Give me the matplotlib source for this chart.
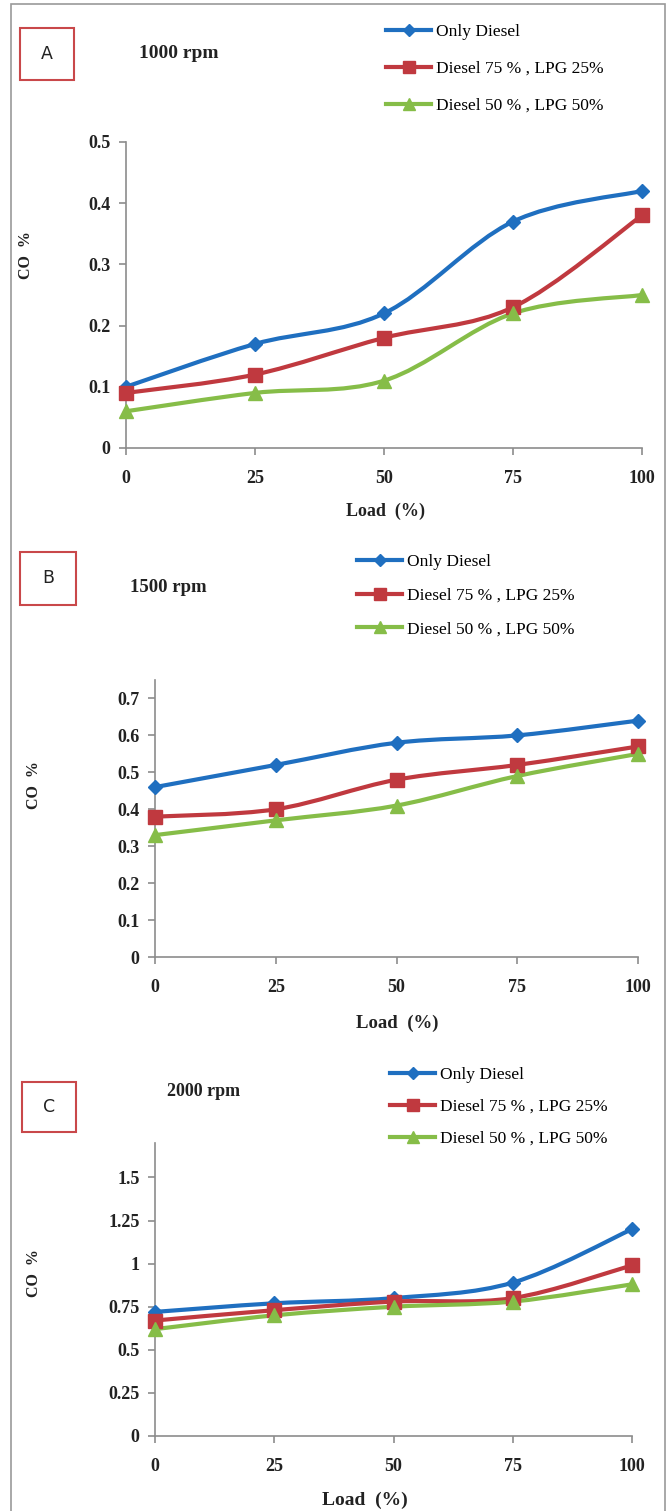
import numpy as np
import matplotlib
matplotlib.use("Agg")
import matplotlib.pyplot as plt
from matplotlib.path import Path
from matplotlib.patches import PathPatch, Rectangle
from matplotlib.lines import Line2D

# data
load = [0, 25, 50, 75, 100]
series_names = ["Only Diesel", "Diesel 75 % , LPG 25%", "Diesel 50 % , LPG 50%"]

co_1000_diesel = [0.10, 0.17, 0.22, 0.37, 0.42]
co_1000_d75 = [0.09, 0.12, 0.18, 0.23, 0.38]
co_1000_d50 = [0.06, 0.09, 0.11, 0.22, 0.25]

co_1500_diesel = [0.46, 0.52, 0.58, 0.60, 0.64]
co_1500_d75 = [0.38, 0.40, 0.48, 0.52, 0.57]
co_1500_d50 = [0.33, 0.37, 0.41, 0.49, 0.55]

co_2000_diesel = [0.72, 0.77, 0.80, 0.89, 1.20]
co_2000_d75 = [0.67, 0.73, 0.78, 0.80, 0.99]
co_2000_d50 = [0.62, 0.70, 0.75, 0.78, 0.88]

yticks_1000 = [0, 0.1, 0.2, 0.3, 0.4, 0.5]
ytick_labels_1000 = ["0", "0.1", "0.2", "0.3", "0.4", "0.5"]
yticks_1500 = [0, 0.1, 0.2, 0.3, 0.4, 0.5, 0.6, 0.7]
ytick_labels_1500 = ["0", "0.1", "0.2", "0.3", "0.4", "0.5", "0.6", "0.7"]
yticks_2000 = [0, 0.25, 0.5, 0.75, 1, 1.25, 1.5]
ytick_labels_2000 = ["0", "0.25", "0.5", "0.75", "1", "1.25", "1.5"]

colors = ["#1f6fc0", "#c0393f", "#86bd48"]
markers = ["D", "s", "^"]
msizes = [7, 10, 10]

W, H = 671, 1511
SERIF = ["Liberation Serif", "DejaVu Serif"]


def fx(x):
    return x / W


def fy(y):
    return 1 - y / H


def smooth_path(xs, ys):
    # excel style smoothed line: cubic bezier through each point
    p = np.column_stack([xs, ys]).astype(float)
    n = len(p)
    verts = [p[0]]
    codes = [Path.MOVETO]
    for i in range(n - 1):
        prev = p[i - 1] if i > 0 else p[i]
        nxt = p[i + 2] if i + 2 < n else p[i + 1]
        c1 = p[i] + (p[i + 1] - prev) / 6
        c2 = p[i + 1] - (nxt - p[i]) / 6
        verts += [c1, c2, p[i + 1]]
        codes += [Path.CURVE4] * 3
    return Path(verts, codes)


def panel(box, ylim, yticks, ylabels, data, letter, letter_box, rpm, rpm_xy,
          rpm_size, leg_xy, leg_space, ylab_xy, xlab_xy, xlab_size=12.5):
    left, right, bottom, top = box
    ax = fig.add_axes([fx(left), fy(bottom), fx(right - left), (bottom - top) / H])
    for vals, c, m, ms in zip(data, colors, markers, msizes):
        # smoothed line drawn in data coordinates
        ax.add_patch(PathPatch(smooth_path(load, vals), facecolor="none",
                               edgecolor=c, lw=3, clip_on=False, zorder=3))
        ax.plot(load, vals, ls="none", marker=m, ms=ms, color=c,
                clip_on=False, zorder=4)
    ax.set_xlim(0, 100)
    ax.set_ylim(*ylim)
    ax.set_xticks(load)
    ax.set_xticklabels([str(v) for v in load])
    ax.set_yticks(yticks)
    ax.set_yticklabels(ylabels)
    for s in ["top", "right"]:
        ax.spines[s].set_visible(False)
    for s in ["left", "bottom"]:
        ax.spines[s].set_color("#8c8c8c")
        ax.spines[s].set_linewidth(1.2)
    ax.tick_params(colors="#8c8c8c", length=5, width=1.2, labelcolor="#222222",
                   labelsize=13)
    ax.tick_params(axis="x", pad=11)
    ax.tick_params(axis="y", pad=6)
    for t in ax.get_xticklabels() + ax.get_yticklabels():
        t.set_family(SERIF)
        t.set_fontweight("bold")

    # legend
    handles = [Line2D([], [], color=c, marker=m, lw=3, ms=ms * 0.85)
               for c, m, ms in zip(colors, markers, msizes)]
    fig.legend(handles, series_names, loc="upper left",
               bbox_to_anchor=(fx(leg_xy[0]), fy(leg_xy[1])),
               frameon=False, handlelength=2.6, handletextpad=0.3,
               labelspacing=leg_space, prop={"family": SERIF, "size": 12.5},
               borderaxespad=0, borderpad=0)

    # letter box
    bx0, by0, bx1, by1 = letter_box
    fig.patches.append(Rectangle((fx(bx0), fy(by1)), fx(bx1 - bx0), (by1 - by0) / H,
                                 transform=fig.transFigure, fill=False,
                                 edgecolor="#c9484a", lw=1.5))
    fig.text(fx((bx0 + bx1) / 2), fy((by0 + by1) / 2), letter, ha="center",
             va="center", fontsize=12.5, family="DejaVu Sans", color="#222222")
    fig.text(fx(rpm_xy[0]), fy(rpm_xy[1]), rpm, ha="left", va="center",
             fontsize=rpm_size, fontweight="bold", family=SERIF, color="#222222")
    fig.text(fx(ylab_xy[0]), fy(ylab_xy[1]), "CO  %", rotation=90, ha="center",
             va="center", fontsize=11.5, fontweight="bold", family=SERIF,
             color="#222222")
    fig.text(fx(xlab_xy[0]), fy(xlab_xy[1]), "Load  (%)", ha="center",
             va="center", fontsize=xlab_size, fontweight="bold", family=SERIF,
             color="#222222")
    return ax


fig = plt.figure(figsize=(W / 100, H / 100), dpi=100)

# outer frame
fig.patches.append(Rectangle((fx(11), fy(1514)), fx(654), 1510 / H,
                             transform=fig.transFigure, fill=False,
                             edgecolor="#9a9a9a", lw=1.2))

panel((126, 642, 448, 142), (0, 0.5), yticks_1000, ytick_labels_1000,
      [co_1000_diesel, co_1000_d75, co_1000_d50], "A", (20, 28, 74, 80),
      "1000 rpm", (139, 53), 14, (386, 24), 1.2, (26, 255), (385, 511), 13)

panel((155, 638, 957, 680), (0, 0.75), yticks_1500, ytick_labels_1500,
      [co_1500_diesel, co_1500_d75, co_1500_d50], "B", (20, 552, 76, 605),
      "1500 rpm", (130, 588), 13.5, (357, 554), 1.0, (34, 785), (397, 1023), 13.5)

panel((155, 632, 1436, 1143), (0, 1.7), yticks_2000, ytick_labels_2000,
      [co_2000_diesel, co_2000_d75, co_2000_d50], "C", (22, 1082, 76, 1132),
      "2000 rpm", (167, 1091), 13, (390, 1067), 0.9, (34, 1273), (365, 1500),
      14)

fig.savefig("out.png", dpi=100)
